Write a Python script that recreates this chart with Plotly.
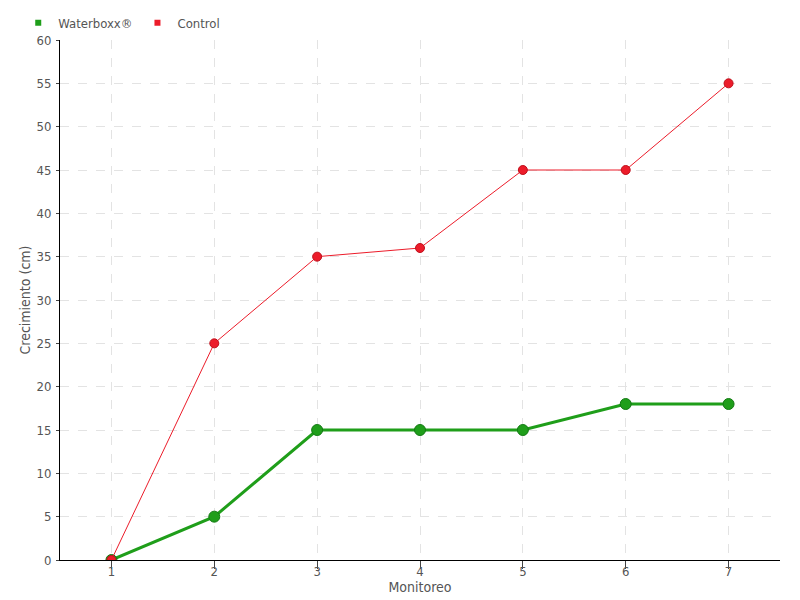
import plotly.graph_objects as go

monitoreo = [1, 2, 3, 4, 5, 6, 7]
waterboxx = [0, 5, 15, 15, 15, 18, 18]
control = [0, 25, 35, 36, 45, 45, 55]
y_ticks = list(range(0, 61, 5))

FONT = "DejaVu Sans Condensed"
GREEN = "#1f9e1a"
RED = "#ec1c2a"

fig = go.Figure()
fig.add_trace(go.Scatter(x=monitoreo, y=waterboxx, mode="lines+markers", showlegend=False,
                         line=dict(color=GREEN, width=3),
                         marker=dict(size=11, color=GREEN, line=dict(color="#137a13", width=1))))
fig.add_trace(go.Scatter(x=monitoreo, y=control, mode="lines+markers", showlegend=False,
                         line=dict(color=RED, width=1),
                         marker=dict(size=9, color=RED, line=dict(color="#c0101c", width=1))))
fig.add_trace(go.Scatter(x=[None], y=[None], mode="markers", name="Waterboxx®",
                         marker=dict(symbol="square", size=6, color=GREEN)))
fig.add_trace(go.Scatter(x=[None], y=[None], mode="markers", name="Control",
                         marker=dict(symbol="square", size=6, color=RED)))

fig.update_layout(
    width=800, height=600,
    margin=dict(l=52, r=28, t=32, b=48, autoexpand=False),
    paper_bgcolor="white", plot_bgcolor="white",
    font=dict(family=FONT, size=13, color="#555555"),
    legend=dict(orientation="h", x=-0.058, y=1.004, xanchor="left", yanchor="bottom",
                bgcolor="rgba(0,0,0,0)",
                font=dict(size=13), itemwidth=30, tracegroupgap=0),
    xaxis=dict(range=[0.5, 7.5], tickvals=monitoreo, showgrid=True,
               gridcolor="#e3e3e3", griddash="dash", showline=True, linecolor="black",
               ticks="outside", ticklen=8, tickcolor="#444", zeroline=False,
               ticklabelstandoff=-9,
               automargin=False,
               title=dict(text="Monitoreo", standoff=0, font=dict(size=14, color="#555555"))),
    yaxis=dict(range=[0, 60], tickvals=y_ticks, showgrid=True,
               gridcolor="#e3e3e3", griddash="dash", showline=True, linecolor="black",
               ticks="outside", ticklen=3, tickcolor="#444", zeroline=False,
               ticklabelstandoff=2,
               automargin=False,
               title=dict(text="Crecimiento (cm)", standoff=2, font=dict(size=14, color="#555555"))),
)
fig.write_html("out.html")
